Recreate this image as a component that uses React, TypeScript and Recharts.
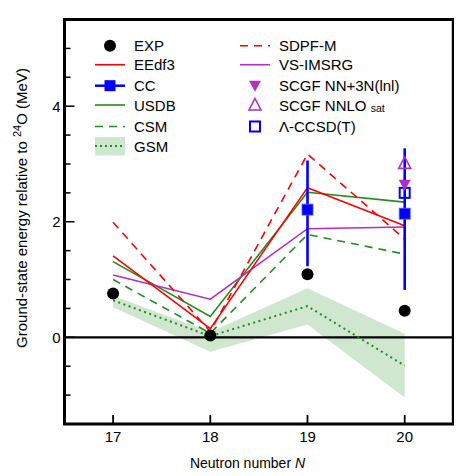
import React from 'react';
import {
  ComposedChart,
  Line,
  Area,
  Scatter,
  XAxis,
  YAxis,
  ReferenceLine,
  ReferenceArea,
  ErrorBar,
  Legend,
} from 'recharts';

// ---------- data ----------
const neutronNumbers = [17, 18, 19, 20];
const expValues = [0.76, 0.03, 1.09, 0.46];
const eedf3Values = [1.41, 0.15, 2.59, 1.93];
const sdpfmValues = [1.99, 0.1, 3.17, 1.7];
const usdbValues = [1.31, 0.36, 2.51, 2.34];
const csmValues = [1.0, 0.07, 1.78, 1.44];
const vsimsrgValues = [1.08, 0.66, 1.88, 1.91];
const gsmValues = [0.64, 0.02, 0.54, -0.49];
const gsmLower = [0.52, -0.25, 0.22, -1.04];
const gsmUpper = [0.72, 0.09, 0.85, 0.06];

const ccNeutrons = [19, 20];
const ccValues = [2.21, 2.14];
const ccLower = [1.23, 0.82];
const ccUpper = [3.06, 3.27];

const scgfNeutrons = [20];
const scgfNN3NValues = [2.64];
const scgfNNLOsatValues = [3.01];
const lambdaCCSDTValues = [2.5];

const xTicks = [17, 18, 19, 20];
const yTicks = [-1, -0.5, 0, 0.5, 1, 1.5, 2, 2.5, 3, 3.5, 4, 4.5, 5];
const yLabeledTicks = [0, 2, 4];

// ---------- tables ----------
const lineData = neutronNumbers.map((n, i) => ({
  N: n,
  eedf3: eedf3Values[i],
  sdpfm: sdpfmValues[i],
  usdb: usdbValues[i],
  csm: csmValues[i],
  vsimsrg: vsimsrgValues[i],
  gsm: gsmValues[i],
  gsmBand: [gsmLower[i], gsmUpper[i]],
}));
const expData = neutronNumbers.map((n, i) => ({ N: n, v: expValues[i] }));
const ccData = ccNeutrons.map((n, i) => ({
  N: n,
  v: ccValues[i],
  err: [ccValues[i] - ccLower[i], ccUpper[i] - ccValues[i]],
}));
const scgfNN3NData = scgfNeutrons.map((n, i) => ({ N: n, v: scgfNN3NValues[i] }));
const scgfNNLOsatData = scgfNeutrons.map((n, i) => ({ N: n, v: scgfNNLOsatValues[i] }));
const lambdaData = scgfNeutrons.map((n, i) => ({ N: n, v: lambdaCCSDTValues[i] }));

// ---------- styles ----------
const FONT = '"Liberation Sans", Arial, Helvetica, sans-serif';
const RED = '#ff0000';
const GREEN = '#228b22';
const BLUE = '#0000ff';
const MAGENTA = '#b32cc4';
const BAND = '#cfe7cf';

const W = 454;
const H = 468;
const M_TOP = 11.5;
const M_RIGHT = 8.7;
const Y_W = 56.5;
const X_H = 52;
const PLOT_LEFT = Y_W;
const PLOT_BOTTOM = H - X_H;

const YTick = (props: any) => {
  const { y, payload } = props;
  const major = yLabeledTicks.includes(payload.value);
  return (
    <g>
      <line x1={PLOT_LEFT} x2={PLOT_LEFT + (major ? 10 : 6)} y1={y} y2={y} stroke="#000" strokeWidth={1.5} />
      {major && (
        <text x={PLOT_LEFT - 4} y={y} dy={5.5} textAnchor="end" fontFamily={FONT} fontSize={15} fill="#000">
          {payload.value}
        </text>
      )}
    </g>
  );
};

const XTick = (props: any) => {
  const { x, payload } = props;
  return (
    <g>
      <line x1={x} x2={x} y1={PLOT_BOTTOM} y2={PLOT_BOTTOM - 9} stroke="#000" strokeWidth={1.8} />
      <text x={x} y={PLOT_BOTTOM} dy={17.5} textAnchor="middle" fontFamily={FONT} fontSize={15} fill="#000">
        {payload.value}
      </text>
    </g>
  );
};

const YTitle = () => (
  <text
    x={18.7}
    y={200}
    transform="rotate(-90 18.7 200)"
    textAnchor="middle"
    fontFamily={FONT}
    fontSize={15}
    fill="#000"
  >
    <tspan>Ground-state energy relative to </tspan>
    <tspan fontSize={11} dy={-6}>24</tspan>
    <tspan dy={6}>O (MeV)</tspan>
  </text>
);

const XTitle = () => (
  <text x={239.5} y={460} textAnchor="middle" fontFamily={FONT} fontSize={14} fill="#000">
    <tspan>Neutron number </tspan>
    <tspan fontStyle="italic">N</tspan>
  </text>
);

const Circle = (p: any) => <circle cx={p.cx} cy={p.cy} r={6} fill="#000" />;
const FilledSquare = (p: any) => (
  <rect x={p.cx - 5.5} y={p.cy - 5.5} width={11} height={11} fill={BLUE} stroke="#5a5aff" strokeWidth={0.8} />
);
const OpenSquare = (p: any) => (
  <rect x={p.cx - 5} y={p.cy - 5} width={10} height={10} fill="none" stroke={BLUE} strokeWidth={2} />
);
const DownTriangle = (p: any) => (
  <path d={`M${p.cx - 6},${p.cy - 5} L${p.cx + 6},${p.cy - 5} L${p.cx},${p.cy + 6} Z`} fill={MAGENTA} />
);
const UpTriangle = (p: any) => (
  <path
    d={`M${p.cx},${p.cy - 6.5} L${p.cx + 6},${p.cy + 5} L${p.cx - 6},${p.cy + 5} Z`}
    fill="none"
    stroke={MAGENTA}
    strokeWidth={1.6}
  />
);

const rows = [37.7, 56.7, 77.7, 97, 118.5, 138];
const C1 = { x1: 87, x2: 117, cx: 102, tx: 126 };
const C2 = { x1: 232, x2: 262, cx: 247, tx: 271 };

const LegText = ({ x, y, children }: any) => (
  <text x={x} y={y + 5.5} fontFamily={FONT} fontSize={15} fill="#000">
    {children}
  </text>
);

const LegendContent = () => (
  <svg width={W} height={160} style={{ display: 'block', pointerEvents: 'none' }}>
    {/* column 1 */}
    <circle cx={C1.cx} cy={rows[0]} r={6} fill="#000" />
    <LegText x={C1.tx} y={rows[0]}>EXP</LegText>

    <line x1={C1.x1} x2={C1.x2} y1={rows[1]} y2={rows[1]} stroke={RED} strokeWidth={1.6} />
    <LegText x={C1.tx} y={rows[1]}>EEdf3</LegText>

    <line x1={C1.x1} x2={C1.x2} y1={rows[2]} y2={rows[2]} stroke={BLUE} strokeWidth={2.5} />
    <rect x={C1.cx - 5.5} y={rows[2] - 5.5} width={11} height={11} fill={BLUE} />
    <LegText x={C1.tx} y={rows[2]}>CC</LegText>

    <line x1={C1.x1} x2={C1.x2} y1={rows[3]} y2={rows[3]} stroke={GREEN} strokeWidth={1.6} />
    <LegText x={C1.tx} y={rows[3]}>USDB</LegText>

    <line x1={C1.x1} x2={C1.x2} y1={rows[4]} y2={rows[4]} stroke={GREEN} strokeWidth={1.6} strokeDasharray="8 6" />
    <LegText x={C1.tx} y={rows[4]}>CSM</LegText>

    <rect x={C1.x1} y={rows[5] - 9} width={30} height={18.5} fill={BAND} />
    <line x1={C1.x1} x2={C1.x2} y1={rows[5]} y2={rows[5]} stroke={GREEN} strokeWidth={2} strokeDasharray="2 3" />
    <LegText x={C1.tx} y={rows[5]}>GSM</LegText>

    {/* column 2 */}
    <line x1={C2.x1} x2={C2.x2} y1={rows[0]} y2={rows[0]} stroke={RED} strokeWidth={1.6} strokeDasharray="8 6" />
    <LegText x={C2.tx} y={rows[0]}>SDPF-M</LegText>

    <line x1={C2.x1} x2={C2.x2} y1={rows[1]} y2={rows[1]} stroke={MAGENTA} strokeWidth={1.6} />
    <LegText x={C2.tx} y={rows[1]}>VS-IMSRG</LegText>

    <DownTriangle cx={C2.cx} cy={rows[2]} />
    <LegText x={C2.tx} y={rows[2]}>SCGF NN+3N(lnl)</LegText>

    <UpTriangle cx={C2.cx} cy={rows[3]} />
    <LegText x={C2.tx} y={rows[3]}>
      <tspan>SCGF NNLO </tspan>
      <tspan fontSize={10.5} dy={1}>sat</tspan>
    </LegText>

    <OpenSquare cx={C2.cx} cy={rows[4]} />
    <LegText x={C2.tx} y={rows[4]}>Λ-CCSD(T)</LegText>
  </svg>
);

export default function App() {
  return (
    <ComposedChart
      width={W}
      height={H}
      data={lineData}
      margin={{ top: M_TOP, right: M_RIGHT, left: 0, bottom: 0 }}
    >
      <XAxis
        type="number"
        dataKey="N"
        domain={[16.5, 20.5]}
        ticks={xTicks}
        interval={0}
        axisLine={false}
        tickLine={false}
        tickSize={0}
        tickMargin={0}
        height={X_H}
        tick={<XTick />}
        label={<XTitle />}
      />
      <YAxis
        type="number"
        domain={[-1.5, 5.5]}
        ticks={yTicks}
        interval={0}
        axisLine={false}
        tickLine={false}
        tickSize={0}
        tickMargin={0}
        width={Y_W}
        tick={<YTick />}
        label={<YTitle />}
      />
      <Legend
        content={<LegendContent />}
        layout="horizontal"
        verticalAlign="middle"
        align="center"
        wrapperStyle={{ position: 'absolute', left: 0, top: 0, width: W, height: 160 }}
      />
      <Area
        type="linear"
        dataKey="gsmBand"
        stroke="none"
        fill={BAND}
        fillOpacity={1}
        dot={false}
        activeDot={false}
        isAnimationActive={false}
      />
      <ReferenceLine y={0} stroke="#000" strokeWidth={2.2} />
      <Line type="linear" dataKey="gsm" stroke={GREEN} strokeWidth={2} strokeDasharray="2 3.5" dot={false} activeDot={false} isAnimationActive={false} />
      <Line type="linear" dataKey="csm" stroke={GREEN} strokeWidth={1.6} strokeDasharray="8 6" dot={false} activeDot={false} isAnimationActive={false} />
      <Line type="linear" dataKey="usdb" stroke={GREEN} strokeWidth={1.6} dot={false} activeDot={false} isAnimationActive={false} />
      <Line type="linear" dataKey="vsimsrg" stroke={MAGENTA} strokeWidth={1.6} dot={false} activeDot={false} isAnimationActive={false} />
      <Line type="linear" dataKey="sdpfm" stroke={RED} strokeWidth={1.6} strokeDasharray="8 6" dot={false} activeDot={false} isAnimationActive={false} />
      <Line type="linear" dataKey="eedf3" stroke={RED} strokeWidth={1.6} dot={false} activeDot={false} isAnimationActive={false} />
      <Scatter data={ccData} dataKey="v" shape={<FilledSquare />} isAnimationActive={false}>
        <ErrorBar dataKey="err" direction="y" width={0} stroke={BLUE} strokeWidth={2.6} isAnimationActive={false} />
      </Scatter>
      <Scatter data={lambdaData} dataKey="v" shape={<OpenSquare />} isAnimationActive={false} />
      <Scatter data={scgfNN3NData} dataKey="v" shape={<DownTriangle />} isAnimationActive={false} />
      <Scatter data={scgfNNLOsatData} dataKey="v" shape={<UpTriangle />} isAnimationActive={false} />
      <Scatter data={expData} dataKey="v" shape={<Circle />} isAnimationActive={false} />
      <ReferenceArea
        x1={16.5}
        x2={20.5}
        y1={-1.5}
        y2={5.5}
        fill="none"
        fillOpacity={0}
        stroke="#000"
        strokeWidth={3}
        ifOverflow="visible"
      />
    </ComposedChart>
  );
}
